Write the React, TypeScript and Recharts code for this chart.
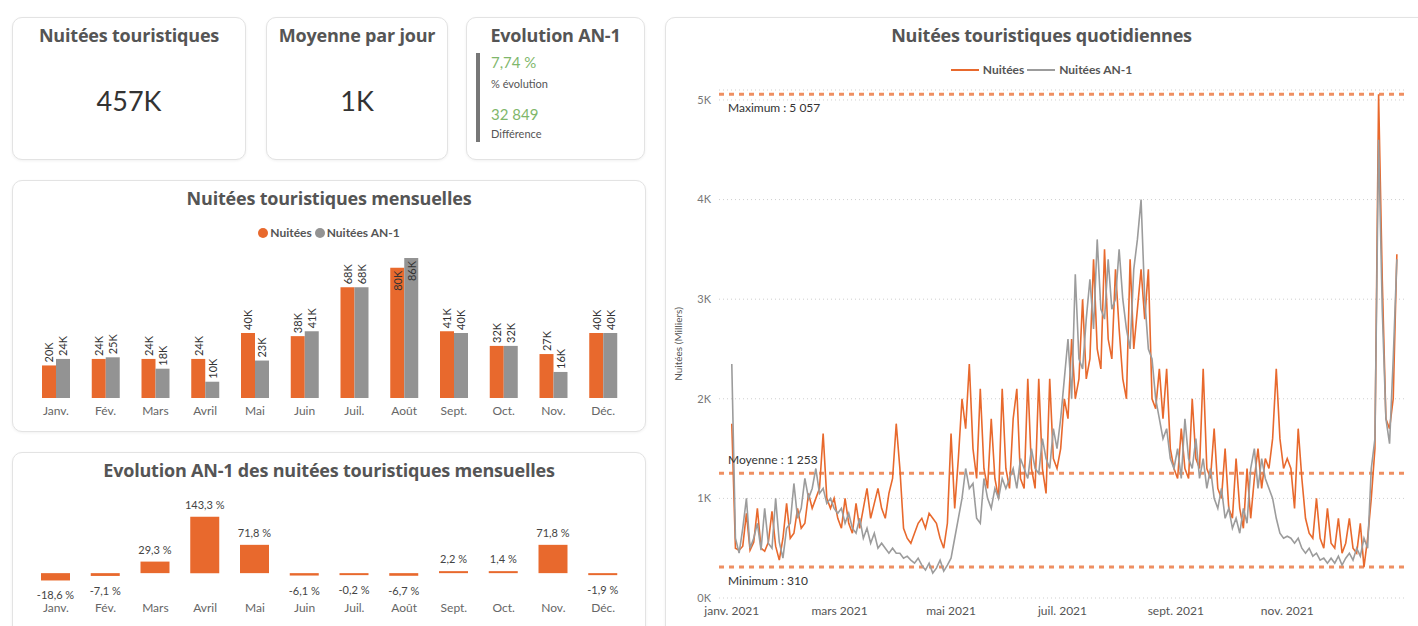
import React from 'react'
import {
  BarChart,
  Bar,
  LineChart,
  Line,
  XAxis,
  YAxis,
  CartesianGrid,
  ReferenceLine,
  LabelList,
} from 'recharts'

const ORANGE = '#E8692D'
const GREY_BAR = '#939393'
const GREY_LINE = '#9C9C9C'
const FONT = 'Lato, "Noto Sans", sans-serif'
const TITLE_FONT = '"Open Sans", Lato, sans-serif'

// mensuel (milliers)
const months = ['Janv.', 'Fév.', 'Mars', 'Avril', 'Mai', 'Juin', 'Juil.', 'Août', 'Sept.', 'Oct.', 'Nov.', 'Déc.']
const nuiteesMois = [20, 24, 24, 24, 40, 38, 68, 80, 41, 32, 27, 40]
const an1Mois = [24, 25, 18, 10, 23, 41, 68, 86, 40, 32, 16, 40]
const evolutionMois = [-18.6, -7.1, 29.3, 143.3, 71.8, -6.1, -0.2, -6.7, 2.2, 1.4, 71.8, -1.9]

// quotidien, un point tous les 2 jours (jour 0 = 1er janvier)
const nuiteesJour = [
  // janv.
  1750, 500, 480, 520, 850, 480, 560, 900, 500, 470, 560, 870, 520, 380, 600, 950,
  // févr.
  600, 650, 900, 700, 750, 1050, 900, 1000, 1100, 1650, 1000, 900, 1000, 800,
  // mars
  700, 1000, 750, 650, 950, 700, 900, 1100, 800, 950, 1100, 900, 800, 1050, 1200, 1750,
  // avr.
  1300, 700, 600, 550, 650, 750, 800, 700, 850, 800, 750, 600, 500, 750, 1650,
  // mai
  900, 1400, 2000, 1700, 2350, 1500, 1200, 2100, 1300, 1100, 1800, 1200, 1000, 2100, 1300,
  // juin
  1100, 1800, 2100, 1200, 1100, 2200, 1300, 1100, 2200, 1300, 1050, 2200, 1400, 1300, 1500,
  // juil.
  2000, 1800, 2600, 2000, 2200, 3000, 2200, 2400, 3400, 2500, 2300, 3500, 2600, 2400, 3300, 2700,
  // août
  2200, 2000, 3400, 2500, 2900, 3300, 2800, 3300, 2000, 1900, 2300, 1800, 2300, 1500, 1300,
  // sept.
  1200, 1700, 1300, 1200, 2000, 1400, 1300, 2300, 1300, 1200, 1700, 1100, 1000, 1500, 900,
  // oct.
  800, 1400, 900, 700, 1300, 800, 1200, 1500, 1100, 1400, 1300, 1600, 2300, 1600, 1300, 1400,
  // nov.
  1300, 900, 1700, 1200, 800, 650, 600, 1000, 600, 500, 900, 550, 500, 800, 450,
  // déc.
  550, 800, 500, 450, 750, 310, 600, 1000, 1500, 5057, 3200, 1800, 1700, 2000, 3450,
]

const an1Jour = [
  // janv.
  2350, 600, 450, 700, 1000, 500, 600, 750, 480, 900, 550, 500, 1000, 560, 400, 700,
  // févr.
  750, 1150, 800, 900, 1200, 1000, 1100, 1300, 1050, 1100, 950, 1000, 900, 850,
  // mars
  900, 750, 850, 700, 650, 800, 600, 700, 550, 650, 500, 550, 500, 450, 500, 450,
  // avr.
  450, 400, 420, 380, 350, 400, 330, 280, 350, 250, 300, 380, 270, 330, 400,
  // mai
  600, 800, 1000, 1300, 1100, 1150, 800, 750, 1200, 1000, 900, 1100, 1000, 1200, 1100,
  // juin
  1200, 1300, 1100, 1400, 1300, 1200, 1500, 1300, 1250, 1600, 1400, 1300, 1700, 1500, 1800,
  // juil.
  2200, 2600, 2000, 3250, 2400, 2300, 2800, 3200, 2700, 3600, 2900, 2800, 3400, 2900, 3000, 3500,
  // août
  3000, 2700, 2500, 3300, 3600, 4000, 3000, 2500, 2400, 2000, 1800, 1600, 1700, 1400, 1300,
  // sept.
  1500, 1200, 1800, 1400, 1300, 1600, 1200, 1400, 1100, 1300, 1000, 900, 1100, 800, 900,
  // oct.
  700, 800, 650, 900, 750, 1300, 1500, 1100, 1400, 1200, 1100, 1000, 800, 650, 600, 620,
  // nov.
  600, 550, 600, 500, 450, 500, 420, 450, 380, 400, 350, 400, 350, 420, 330,
  // déc.
  400, 450, 380, 500, 420, 600, 500, 1300, 1600, 4600, 2900, 1800, 1550, 2400, 3400,
]

const monthTickDays = [0, 59, 120, 181, 243, 304]
const monthTickLabels = ['janv. 2021', 'mars 2021', 'mai 2021', 'juil. 2021', 'sept. 2021', 'nov. 2021']
const yTicks = [0, 1000, 2000, 3000, 4000, 5000]

const maximum = 5057
const moyenne = 1253
const minimum = 310

const monthlyRows = months.map((m, i) => ({ month: m, nuitees: nuiteesMois[i], an1: an1Mois[i], evo: evolutionMois[i] }))
const dailyRows = nuiteesJour.map((v, i) => ({ day: i * 2, nuitees: v, an1: an1Jour[i] }))

const card: React.CSSProperties = {
  position: 'absolute',
  background: '#fff',
  border: '1px solid #e3e3e3',
  borderRadius: 10,
  boxShadow: '0 1px 3px rgba(0,0,0,0.06)',
  boxSizing: 'border-box',
}

const title: React.CSSProperties = {
  position: 'absolute',
  left: 0,
  right: 0,
  textAlign: 'center',
  fontFamily: TITLE_FONT,
  fontWeight: 700,
  fontSize: 18,
  letterSpacing: -0.2,
  color: '#555',
  whiteSpace: 'nowrap',
}

const renderMonthLabel = (props: any) => {
  const { x, y, width, value } = props
  const cx = x + width / 2
  const inside = value >= 75
  const ty = inside ? y + 3 : y - 3
  return (
    <text
      x={cx}
      y={ty}
      transform={`rotate(-90 ${cx} ${ty})`}
      textAnchor={inside ? 'end' : 'start'}
      dominantBaseline="central"
      fontSize={11}
      fill="#333"
      fontFamily={FONT}
    >
      {value}K
    </text>
  )
}

const renderEvoLabel = (props: any) => {
  const { x, y, width, height, value } = props
  const top = Math.min(y, y + height)
  const bottom = Math.max(y, y + height)
  const cx = x + width / 2
  const ty = value >= 0 ? top - 8 : bottom + 19
  return (
    <text x={cx} y={ty} textAnchor="middle" fontSize={11} fill="#444" fontFamily={FONT}>
      {String(value).replace('.', ',')} %
    </text>
  )
}

const EvoTick = (props: any) => {
  const { x, y, payload } = props
  return (
    <text x={x} y={y + 21} textAnchor="middle" fontSize={12} fill="#666" fontFamily={FONT}>
      {payload.value}
    </text>
  )
}

const Dot = ({ color }: { color: string }) => (
  <span style={{ display: 'inline-block', width: 10, height: 10, borderRadius: 5, background: color, marginRight: 2, verticalAlign: -1 }} />
)

const Dash = ({ color }: { color: string }) => (
  <span style={{ display: 'inline-block', width: 28, height: 2, background: color, marginRight: 4, verticalAlign: 3 }} />
)

export default function App() {
  return (
    <div style={{ position: 'absolute', left: 0, top: 0, width: 1418, height: 626, overflow: 'hidden', background: '#fff', fontFamily: FONT }}>
      {/* KPI */}
      <div style={{ ...card, left: 12, top: 17, width: 234, height: 143 }}>
        <div style={{ ...title, top: 5 }}>Nuitées touristiques</div>
        <div style={{ position: 'absolute', left: 0, right: 0, top: 66, textAlign: 'center', fontSize: 27, color: '#333' }}>457K</div>
      </div>
      <div style={{ ...card, left: 266, top: 17, width: 182, height: 143 }}>
        <div style={{ ...title, top: 5 }}>Moyenne par jour</div>
        <div style={{ position: 'absolute', left: 0, right: 0, top: 66, textAlign: 'center', fontSize: 27, color: '#333' }}>1K</div>
      </div>
      <div style={{ ...card, left: 466, top: 17, width: 179, height: 143 }}>
        <div style={{ ...title, top: 5 }}>Evolution AN-1</div>
        <div style={{ position: 'absolute', left: 9, top: 35, width: 4, height: 89, background: '#777' }} />
        <div style={{ position: 'absolute', left: 24, top: 35, fontSize: 15, color: '#7fb76b' }}>7,74 %</div>
        <div style={{ position: 'absolute', left: 24, top: 59, fontSize: 11, color: '#555' }}>% évolution</div>
        <div style={{ position: 'absolute', left: 24, top: 87, fontSize: 15, color: '#7fb76b' }}>32 849</div>
        <div style={{ position: 'absolute', left: 24, top: 109, fontSize: 11, color: '#555' }}>Différence</div>
      </div>

      {/* mensuel */}
      <div style={{ ...card, left: 12, top: 180, width: 634, height: 252 }}>
        <div style={{ ...title, top: 5 }}>Nuitées touristiques mensuelles</div>
        <div style={{ position: 'absolute', left: 0, right: 0, top: 44, textAlign: 'center', fontSize: 12, fontWeight: 700, color: '#555' }}>
          <Dot color={ORANGE} />Nuitées <Dot color={GREY_BAR} />Nuitées AN-1
        </div>
        <div style={{ position: 'absolute', left: 0, top: 0 }}>
          <BarChart width={633} height={251} data={monthlyRows} margin={{ top: 77, right: 18, bottom: 0, left: 18 }} barGap={0}>
            <XAxis dataKey="month" axisLine={false} tickLine={false} height={34} interval={0} tick={{ fontSize: 12, fill: '#666', fontFamily: FONT }} />
            <YAxis hide domain={[0, 86]} />
            <Bar dataKey="nuitees" fill={ORANGE} barSize={14} isAnimationActive={false}>
              <LabelList dataKey="nuitees" content={renderMonthLabel} />
            </Bar>
            <Bar dataKey="an1" fill={GREY_BAR} barSize={14} isAnimationActive={false}>
              <LabelList dataKey="an1" content={renderMonthLabel} />
            </Bar>
          </BarChart>
        </div>
      </div>

      {/* evolution */}
      <div style={{ ...card, left: 12, top: 452, width: 634, height: 200 }}>
        <div style={{ ...title, top: 5 }}>Evolution AN-1 des nuitées touristiques mensuelles</div>
        <div style={{ position: 'absolute', left: 0, top: 0 }}>
          <BarChart width={633} height={174} data={monthlyRows} margin={{ top: 61, right: 18, bottom: 0, left: 18 }}>
            <XAxis dataKey="month" axisLine={false} tickLine={false} height={44} interval={0} tick={<EvoTick />} />
            <YAxis hide domain={[-25, 150]} />
            <Bar dataKey="evo" fill={ORANGE} barSize={29} minPointSize={2} isAnimationActive={false}>
              <LabelList dataKey="evo" content={renderEvoLabel} />
            </Bar>
          </BarChart>
        </div>
      </div>

      {/* quotidien */}
      <div style={{ ...card, left: 665, top: 17, width: 770, height: 640 }}>
        <div style={{ ...title, top: 5, right: 17 }}>Nuitées touristiques quotidiennes</div>
        <div style={{ position: 'absolute', left: 0, right: 17, top: 44, textAlign: 'center', fontSize: 12, fontWeight: 700, color: '#555' }}>
          <Dash color={ORANGE} />Nuitées <Dash color={GREY_LINE} />Nuitées AN-1
        </div>
        <div style={{ position: 'absolute', left: 0, top: 0 }}>
          <LineChart width={753} height={609} data={dailyRows} margin={{ top: 72, right: 13, bottom: 5, left: 0 }}>
            <CartesianGrid vertical={false} stroke="#cfcfcf" strokeDasharray="1 3" />
            <XAxis
              type="number"
              dataKey="day"
              domain={[-7, 369]}
              ticks={monthTickDays}
              tickFormatter={(v: number) => monthTickLabels[monthTickDays.indexOf(v)]}
              axisLine={false}
              tickLine={false}
              height={24}
              tick={{ fontSize: 12, fill: '#555', fontFamily: FONT }}
            />
            <YAxis
              domain={[0, 5100]}
              ticks={yTicks}
              tickFormatter={(v: number) => `${v / 1000}K`}
              width={53}
              axisLine={false}
              tickLine={false}
              tick={{ fontSize: 11, fill: '#777', fontFamily: FONT }}
              label={{ value: 'Nuitées (Milliers)', angle: -90, position: 'insideLeft', offset: 12, style: { fontSize: 10, fill: '#555', textAnchor: 'middle', fontFamily: FONT } }}
            />
            <ReferenceLine
              y={maximum}
              stroke={ORANGE}
              strokeOpacity={0.75}
              strokeWidth={3}
              strokeDasharray="5 5"
              label={{ value: 'Maximum : 5 057', position: 'insideTopLeft', offset: 9, fontSize: 12, fill: '#333', fontFamily: FONT }}
            />
            <ReferenceLine
              y={moyenne}
              stroke={ORANGE}
              strokeOpacity={0.75}
              strokeWidth={3}
              strokeDasharray="5 5"
              label={{ value: 'Moyenne : 1 253', position: 'insideBottomLeft', offset: 9, fontSize: 12, fill: '#333', fontFamily: FONT }}
            />
            <ReferenceLine
              y={minimum}
              stroke={ORANGE}
              strokeOpacity={0.75}
              strokeWidth={3}
              strokeDasharray="5 5"
              label={{ value: 'Minimum : 310', position: 'insideTopLeft', offset: 9, fontSize: 12, fill: '#333', fontFamily: FONT }}
            />
            <Line type="linear" dataKey="nuitees" stroke={ORANGE} strokeWidth={1.6} dot={false} isAnimationActive={false} />
            <Line type="linear" dataKey="an1" stroke={GREY_LINE} strokeWidth={1.6} dot={false} isAnimationActive={false} />
          </LineChart>
        </div>
      </div>
    </div>
  )
}
